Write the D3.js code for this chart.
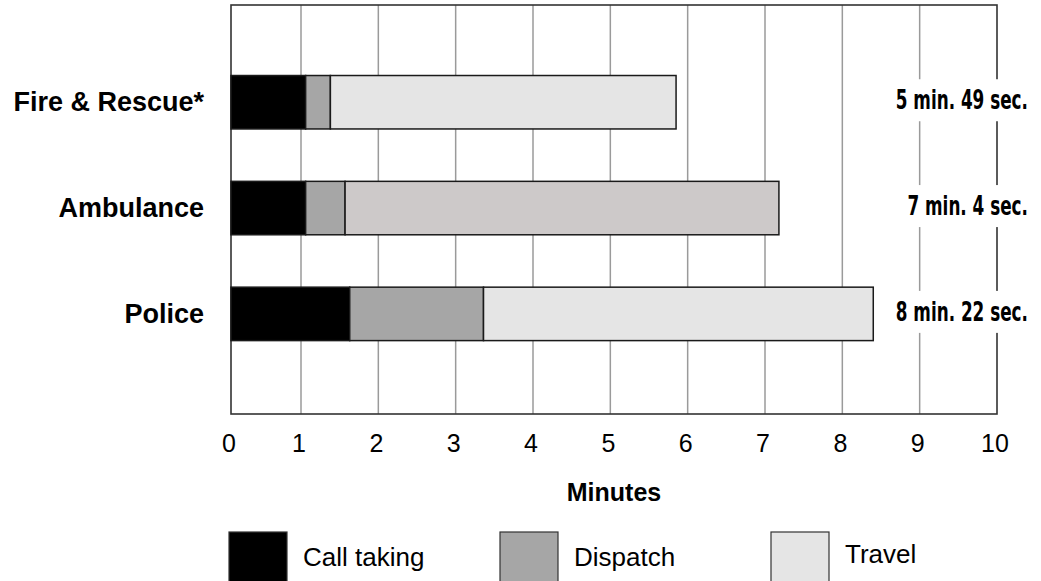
<!DOCTYPE html>
<html>
<head>
<meta charset="utf-8">
<script src="https://cdn.jsdelivr.net/npm/d3@7"></script>
<style>
  body { margin: 0; background: #fff; }
  svg text { font-family: "Liberation Sans", Arial, sans-serif; fill: #000; }
  .total { font-family: "Liberation Sans Narrow", "DejaVu Sans Condensed", sans-serif; font-weight: bold; font-stretch: condensed; }
</style>
</head>
<body>
<div id="chart"></div>
<script>
// data (minutes)
var services = ["Fire & Rescue*", "Ambulance", "Police"];
var callTaking = [1.06, 1.06, 1.63];
var dispatch = [0.32, 0.51, 1.73];
var travel = [4.47, 5.61, 5.04];
var totals = ["5 min. 49 sec.", "7 min. 4 sec.", "8 min. 22 sec."];
var phases = ["Call taking", "Dispatch", "Travel"];
var xTicks = [0, 1, 2, 3, 4, 5, 6, 7, 8, 9, 10];

function init() {
    var width = 1041;
    var height = 581;
    var top = 5, bottom = 414;

    var rows = services.map(function (s, i) {
        return { service: s, "Call taking": callTaking[i], "Dispatch": dispatch[i], "Travel": travel[i] };
    });
    var stacked = d3.stack().keys(phases)(rows);

    // first interval on the original axis is a bit narrower than the rest
    var x = d3.scaleLinear().domain([0, 1, 10]).range([231, 301, 997]);
    var y = d3.scaleBand().domain(services).range([top, bottom])
        .paddingInner(0.495).paddingOuter(0.68).align(0.49);

    var color = d3.scaleOrdinal(phases, ["#000000", "#a6a6a6", "#e5e5e5"]);
    function fill(key, service) {
        if (key === "Travel" && service === "Ambulance") return "#cdc9c9";
        return color(key);
    }

    var svg = d3.select("#chart").append("svg")
        .attr("width", width)
        .attr("height", height);

    svg.append("rect").attr("width", width).attr("height", height).attr("fill", "#fff");

    // grid
    svg.append("g").selectAll("line")
        .data(xTicks.slice(1, -1))
        .enter().append("line")
        .attr("x1", function (d) { return x(d); })
        .attr("x2", function (d) { return x(d); })
        .attr("y1", top).attr("y2", bottom)
        .attr("stroke", "#9a9a9a")
        .attr("stroke-width", 1.5);

    // frame
    svg.append("rect")
        .attr("x", x(0)).attr("y", top)
        .attr("width", x(10) - x(0)).attr("height", bottom - top)
        .attr("fill", "none")
        .attr("stroke", "#333")
        .attr("stroke-width", 1.6);

    // bars
    svg.append("g").selectAll("g")
        .data(stacked)
        .enter().append("g")
        .selectAll("rect")
        .data(function (s) { return s.map(function (d) { d.key = s.key; return d; }); })
        .enter().append("rect")
        .attr("x", function (d) { return x(d[0]); })
        .attr("width", function (d) { return x(d[1]) - x(d[0]); })
        .attr("y", function (d) { return y(d.data.service); })
        .attr("height", y.bandwidth())
        .attr("fill", function (d) { return fill(d.key, d.data.service); })
        .attr("stroke", "#1a1a1a")
        .attr("stroke-width", 1.5);

    // category labels
    svg.append("g").selectAll("text")
        .data(services)
        .enter().append("text")
        .attr("x", 204)
        .attr("y", function (d) { return y(d) + y.bandwidth() / 2 + 9; })
        .attr("text-anchor", "end")
        .style("font-size", "27px")
        .style("font-weight", "bold")
        .text(function (d) { return d; });

    // total time labels on white patches
    var tot = svg.append("g").selectAll("g")
        .data(services)
        .enter().append("g")
        .attr("transform", function (d) { return "translate(0," + (y(d) + y.bandwidth() / 2 - 2) + ")"; });
    tot.append("rect")
        .attr("x", 885).attr("y", -21)
        .attr("width", 156).attr("height", 42)
        .attr("fill", "#fff");
    // squeeze the condensed face to the narrow look of the original
    tot.append("text")
        .attr("class", "total")
        .attr("transform", "translate(1028,9) scale(0.72,1)")
        .attr("text-anchor", "end")
        .style("font-size", "26px")
        .text(function (d, i) { return totals[i]; });

    // x tick labels
    svg.append("g").selectAll("text")
        .data(xTicks)
        .enter().append("text")
        .attr("x", function (d) { return x(d) - 2; })
        .attr("y", 452)
        .attr("text-anchor", "middle")
        .style("font-size", "25px")
        .text(function (d) { return d; });

    svg.append("text")
        .attr("x", (x(0) + x(10)) / 2)
        .attr("y", 501)
        .attr("text-anchor", "middle")
        .style("font-size", "25px")
        .style("font-weight", "bold")
        .text("Minutes");

    // legend
    var leg = svg.append("g").selectAll("g")
        .data(phases)
        .enter().append("g")
        .attr("transform", function (d, i) { return "translate(" + (229 + i * 271) + ",532)"; });
    leg.append("rect")
        .attr("width", 58).attr("height", 60)
        .attr("fill", function (d) { return color(d); })
        .attr("stroke", "#333")
        .attr("stroke-width", 1.2);
    leg.append("text")
        .attr("x", 74)
        .attr("y", function (d) { return d === "Travel" ? 31 : 34; })
        .style("font-size", "26px")
        .text(function (d) { return d; });
}

window.onload = init;
</script>
</body>
</html>
